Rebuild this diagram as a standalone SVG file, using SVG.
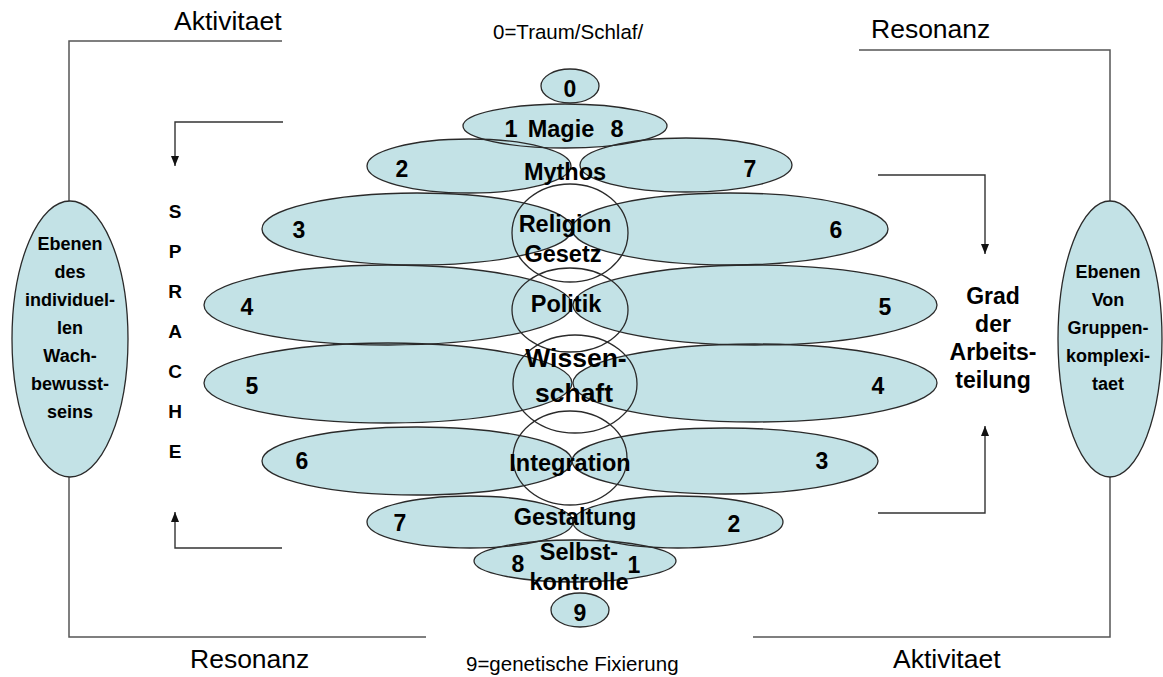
<svg xmlns="http://www.w3.org/2000/svg" width="1163" height="677" viewBox="0 0 1163 677">
<defs>
<style>
.e{fill:#c3e2e6;stroke:none}
.o{fill:none;stroke:#2a2a2a;stroke-width:1.3}
.c{fill:none;stroke:#2a2a2a;stroke-width:1.3}
.t{font-family:"Liberation Sans",Arial,sans-serif;font-weight:bold;fill:#000;text-anchor:middle}
.n{font-size:23px}
.w{font-size:23.5px}
.s{font-size:18px}
.p{font-size:19px}
.g{font-size:23px}
.lbl{font-family:"Liberation Sans",Arial,sans-serif;fill:#000}
.frame{fill:none;stroke:#555;stroke-width:1.5}
.arr{fill:none;stroke:#333;stroke-width:1.4}
</style>
<marker id="ah" markerUnits="userSpaceOnUse" markerWidth="10" markerHeight="10" refX="10" refY="5" orient="auto">
<path d="M0,1 L10,5 L0,9 Z" fill="#111"/>
</marker>
</defs>
<rect width="1163" height="677" fill="#fff"/>

<g id="connectors">
<polyline class="frame" points="282,41 69,41 69,201"/>
<polyline class="frame" points="69,477 69,637 426,637"/>
<polyline class="frame" points="859,50 1110,50 1110,202"/>
<polyline class="frame" points="1110,477 1110,637 753,637"/>
<path class="arr" d="M283,122 H175 V166" marker-end="url(#ah)"/>
<path class="arr" d="M282,548 H175 V512" marker-end="url(#ah)"/>
<path class="arr" d="M878,175 H985 V254" marker-end="url(#ah)"/>
<path class="arr" d="M878,513 H985 V426" marker-end="url(#ah)"/>
</g>

<g id="individual">
<ellipse class="e" cx="70" cy="339" rx="58" ry="138"/>
<ellipse class="o" cx="70" cy="339" rx="58" ry="138"/>
<text class="t s"><tspan x="70" y="250">Ebenen</tspan><tspan x="70" y="278">des</tspan><tspan x="70" y="306">individuel-</tspan><tspan x="70" y="334">len</tspan><tspan x="70" y="362">Wach-</tspan><tspan x="70" y="390">bewusst-</tspan><tspan x="70" y="418">seins</tspan></text>
</g>

<g id="group">
<ellipse class="e" cx="1110" cy="339" rx="52" ry="138"/>
<ellipse class="o" cx="1110" cy="339" rx="52" ry="138"/>
<text class="t s"><tspan x="1108" y="278">Ebenen</tspan><tspan x="1108" y="306">Von</tspan><tspan x="1108" y="334">Gruppen-</tspan><tspan x="1108" y="362">komplexi-</tspan><tspan x="1108" y="390">taet</tspan></text>
</g>

<g id="n0"><ellipse class="e" cx="570" cy="86" rx="29" ry="17"/></g>
<g id="n1"><ellipse class="e" cx="565" cy="126" rx="102" ry="22"/></g>
<g id="n2l"><ellipse class="e" cx="469" cy="166" rx="102" ry="27"/></g>
<g id="n2r"><ellipse class="e" cx="686" cy="165" rx="106" ry="27"/></g>
<g id="n3l"><ellipse class="e" cx="417" cy="229" rx="155" ry="36"/></g>
<g id="n3r"><ellipse class="e" cx="730" cy="229" rx="158" ry="36"/></g>
<g id="n4l"><ellipse class="e" cx="388" cy="305" rx="184" ry="40"/></g>
<g id="n4r"><ellipse class="e" cx="755" cy="305" rx="182" ry="40"/></g>
<g id="n5l"><ellipse class="e" cx="388" cy="383" rx="184" ry="40"/></g>
<g id="n5r"><ellipse class="e" cx="755" cy="383" rx="182" ry="39"/></g>
<g id="n6l"><ellipse class="e" cx="417" cy="461" rx="155" ry="34"/></g>
<g id="n6r"><ellipse class="e" cx="725" cy="461" rx="153" ry="33"/></g>
<g id="n7l"><ellipse class="e" cx="470" cy="522" rx="103" ry="26"/></g>
<g id="n7r"><ellipse class="e" cx="678" cy="522" rx="105" ry="26"/></g>
<g id="n8"><ellipse class="e" cx="575" cy="561" rx="101" ry="21"/></g>
<g id="n9"><ellipse class="e" cx="580" cy="610" rx="29" ry="17"/></g>

<g id="outlines">
<ellipse class="o" cx="570" cy="86" rx="29" ry="17"/>
<ellipse class="o" cx="565" cy="126" rx="102" ry="22"/>
<ellipse class="o" cx="469" cy="166" rx="102" ry="27"/>
<ellipse class="o" cx="686" cy="165" rx="106" ry="27"/>
<ellipse class="o" cx="417" cy="229" rx="155" ry="36"/>
<ellipse class="o" cx="730" cy="229" rx="158" ry="36"/>
<ellipse class="o" cx="388" cy="305" rx="184" ry="40"/>
<ellipse class="o" cx="755" cy="305" rx="182" ry="40"/>
<ellipse class="o" cx="388" cy="383" rx="184" ry="40"/>
<ellipse class="o" cx="755" cy="383" rx="182" ry="39"/>
<ellipse class="o" cx="417" cy="461" rx="155" ry="34"/>
<ellipse class="o" cx="725" cy="461" rx="153" ry="33"/>
<ellipse class="o" cx="470" cy="522" rx="103" ry="26"/>
<ellipse class="o" cx="678" cy="522" rx="105" ry="26"/>
<ellipse class="o" cx="575" cy="561" rx="101" ry="21"/>
<ellipse class="o" cx="580" cy="610" rx="29" ry="17"/>
</g>

<g id="circles">
<ellipse class="c" cx="570" cy="233" rx="58" ry="49"/>
<ellipse class="c" cx="570" cy="310" rx="58" ry="42"/>
<ellipse class="c" cx="575" cy="384" rx="62" ry="49"/>
<ellipse class="c" cx="570" cy="458" rx="57" ry="47"/>
</g>

<g id="labels">
<text class="t n" x="570" y="97">0</text>
<text class="t w"><tspan x="511" y="137">1</tspan><tspan x="561" y="137">Magie</tspan><tspan x="617" y="137">8</tspan></text>
<text class="t n" x="402" y="177">2</text>
<text class="t w" x="565" y="180">Mythos</text>
<text class="t n" x="750" y="177">7</text>
<text class="t n" x="299" y="238">3</text>
<text class="t w" x="565" y="232">Religion</text>
<text class="t w" x="563" y="262">Gesetz</text>
<text class="t n" x="836" y="238">6</text>
<text class="t n" x="247" y="315">4</text>
<text class="t w" x="566" y="312">Politik</text>
<text class="t n" x="885" y="315">5</text>
<text class="t n" x="252" y="394">5</text>
<text class="t" style="font-size:26.5px" x="576" y="367">Wissen-</text>
<text class="t" style="font-size:26.5px" x="574" y="402">schaft</text>
<text class="t n" x="878" y="394">4</text>
<text class="t n" x="302" y="469">6</text>
<text class="t w" x="570" y="471">Integration</text>
<text class="t n" x="822" y="469">3</text>
<text class="t n" x="400" y="531">7</text>
<text class="t w" x="575" y="525">Gestaltung</text>
<text class="t n" x="734" y="532">2</text>
<text class="t n" x="518" y="572">8</text>
<text class="t w" x="579" y="560">Selbst-</text>
<text class="t n" x="634" y="573">1</text>
<text class="t w" x="579" y="590">kontrolle</text>
<text class="t n" x="580" y="621">9</text>
</g>

<g id="sprache">
<text class="t p"><tspan x="175" y="218">S</tspan><tspan x="175" y="258">P</tspan><tspan x="175" y="298">R</tspan><tspan x="175" y="338">A</tspan><tspan x="175" y="378">C</tspan><tspan x="175" y="418">H</tspan><tspan x="175" y="458">E</tspan></text>
</g>

<g id="arbeitsteilung">
<text class="t g"><tspan x="993" y="304">Grad</tspan><tspan x="993" y="332">der</tspan><tspan x="993" y="360">Arbeits-</tspan><tspan x="993" y="388">teilung</tspan></text>
</g>

<g id="axis-labels">
<text class="lbl" style="font-size:26.5px" x="174" y="30">Aktivitaet</text>
<text class="lbl" style="font-size:26.5px" x="871" y="38">Resonanz</text>
<text class="lbl" style="font-size:26.5px" x="190" y="668">Resonanz</text>
<text class="lbl" style="font-size:26.5px" x="893" y="668">Aktivitaet</text>
<text class="lbl" style="font-size:20.5px" x="493" y="39">0=Traum/Schlaf/</text>
<text class="lbl" style="font-size:20.5px" x="466" y="671">9=genetische Fixierung</text>
</g>
</svg>
